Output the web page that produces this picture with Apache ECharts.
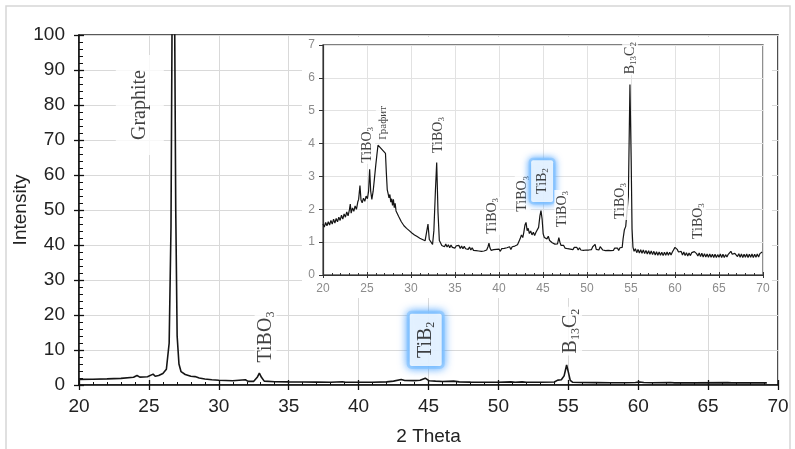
<!DOCTYPE html>
<html>
<head>
<meta charset="utf-8">
<script src="https://cdn.jsdelivr.net/npm/echarts@6/dist/echarts.min.js"></script>
<style>
  html, body { margin: 0; padding: 0; background: #fff; }
  #chart { width: 795px; height: 449px; }
</style>
</head>
<body>
<div id="chart"></div>
<script>
// XRD pattern, full scale (2θ, intensity)
const mainPattern = [
  [20, 1.6], [21, 1.65], [22, 1.75], [23, 1.9], [23.9, 2.2], [24.15, 2.7], [24.35, 2.25], [24.9, 2.35],
  [25.3, 3.1], [25.45, 2.5], [25.7, 2.7], [26.0, 3.3], [26.25, 4.5], [26.45, 12], [26.58, 45], [26.66, 106],
  [26.84, 106], [26.92, 50], [27.02, 14], [27.15, 6], [27.3, 3.8], [27.6, 3.0], [28.0, 2.5], [28.3, 2.4],
  [28.6, 2.0], [29, 1.7], [29.5, 1.5], [30, 1.35], [31, 1.2], [31.9, 1.5], [32.1, 1.05], [32.5, 1.05],
  [32.75, 2.2], [32.9, 3.4], [33.05, 2.2], [33.25, 1.1], [34, 0.95], [35, 0.88], [36, 0.85], [37, 0.82],
  [38, 0.78], [38.85, 0.95], [39.05, 0.8], [40, 0.78], [41, 0.8], [42, 0.9], [42.5, 1.1], [43.05, 1.55],
  [43.3, 1.3], [44, 1.25], [44.4, 1.35], [44.77, 1.95], [45.05, 1.2], [45.5, 1.1], [46, 1.0], [46.8, 1.1],
  [47.2, 0.9], [48, 0.82], [49, 0.8], [50, 0.8], [50.9, 0.9], [51.2, 0.8], [51.7, 0.88], [52, 0.78],
  [53, 0.78], [54, 0.85], [54.25, 1.4], [54.5, 1.5], [54.7, 2.6], [54.88, 5.7], [55.02, 3.4], [55.14, 1.3],
  [55.3, 0.8], [56, 0.72], [57, 0.68], [58, 0.65], [59, 0.65], [59.8, 0.72], [60.1, 0.88], [60.4, 0.7],
  [61, 0.66], [62.3, 0.72], [62.6, 0.62], [64, 0.6], [66.4, 0.68], [66.7, 0.6], [68, 0.6], [69.2, 0.62]
];

// Same pattern, low-intensity detail (2θ, intensity)
const insetPattern = [
  [20.0, 1.55], [20.15, 1.46], [20.3, 1.60], [20.45, 1.50], [20.6, 1.62], [20.75, 1.52], [20.9, 1.66], [21.05, 1.55],
  [21.2, 1.70], [21.35, 1.58], [21.5, 1.72], [21.65, 1.62], [21.8, 1.76], [21.95, 1.66], [22.1, 1.82], [22.25, 1.70],
  [22.4, 1.86], [22.55, 1.76], [22.7, 1.92], [22.85, 1.80], [23.0, 1.98], [23.1, 2.16], [23.2, 1.88], [23.35, 2.04],
  [23.5, 1.94], [23.65, 2.10], [23.8, 2.00], [23.95, 2.22], [24.05, 2.30], [24.2, 2.72], [24.32, 2.28], [24.45, 2.20],
  [24.6, 2.34], [24.75, 2.24], [24.9, 2.40], [25.05, 2.32], [25.18, 2.55], [25.3, 3.22], [25.42, 2.55], [25.55, 2.30],
  [25.7, 2.55], [25.85, 2.95], [26.0, 3.35], [26.12, 3.65], [26.25, 3.95], [27.1, 3.70], [27.2, 3.10], [27.3, 2.60],
  [27.4, 2.48], [27.5, 2.35], [27.6, 2.45], [27.7, 2.22], [27.8, 2.32], [27.9, 2.12], [28.0, 2.30], [28.1, 2.05],
  [28.2, 2.18], [28.3, 1.95], [28.45, 1.90], [28.6, 1.78], [28.75, 1.74], [28.9, 1.62], [29.05, 1.60], [29.2, 1.50],
  [29.35, 1.52], [29.5, 1.42], [29.65, 1.44], [29.8, 1.35], [29.95, 1.38], [30.1, 1.28], [30.25, 1.32], [30.4, 1.22],
  [30.55, 1.26], [30.7, 1.17], [30.85, 1.21], [31.0, 1.12], [31.15, 1.16], [31.3, 1.08], [31.45, 1.12], [31.6, 1.04],
  [31.75, 1.08], [31.93, 1.55], [32.08, 1.08], [32.25, 1.02], [32.45, 0.93], [32.6, 1.35], [32.78, 2.60], [32.92, 3.42],
  [33.07, 1.90], [33.22, 1.05], [33.35, 0.98], [33.5, 0.90], [33.65, 0.96], [33.8, 0.86], [33.95, 0.94], [34.1, 0.85],
  [34.25, 0.92], [34.4, 0.83], [34.55, 0.91], [34.7, 0.84], [34.85, 0.90], [35.0, 0.82], [35.15, 0.89], [35.3, 0.83],
  [35.45, 0.90], [35.6, 0.81], [35.75, 0.88], [35.9, 0.80], [36.05, 0.87], [36.2, 0.80], [36.35, 0.86], [36.5, 0.78],
  [36.65, 0.85], [36.8, 0.76], [36.95, 0.83], [37.1, 0.75], [37.25, 0.81], [37.4, 0.74], [37.55, 0.80], [37.7, 0.73],
  [37.85, 0.79], [38.0, 0.72], [38.15, 0.78], [38.3, 0.73], [38.45, 0.79], [38.6, 0.76], [38.75, 0.86], [38.86, 0.97],
  [38.98, 0.82], [39.1, 0.75], [39.25, 0.70], [39.4, 0.77], [39.55, 0.71], [39.7, 0.78], [39.85, 0.72], [40.0, 0.79],
  [40.15, 0.72], [40.3, 0.80], [40.45, 0.74], [40.6, 0.81], [40.75, 0.75], [40.9, 0.83], [41.05, 0.77], [41.2, 0.86],
  [41.35, 0.78], [41.5, 0.86], [41.65, 0.80], [41.8, 0.88], [41.95, 0.84], [42.1, 0.92], [42.25, 0.90], [42.4, 1.10],
  [42.55, 1.22], [42.7, 1.14], [42.82, 1.30], [42.95, 1.52], [43.07, 1.60], [43.2, 1.35], [43.32, 1.42], [43.45, 1.26],
  [43.6, 1.34], [43.75, 1.22], [43.9, 1.30], [44.05, 1.20], [44.2, 1.30], [44.35, 1.26], [44.5, 1.45], [44.65, 1.80],
  [44.77, 1.96], [44.9, 1.70], [45.02, 1.25], [45.15, 1.14], [45.3, 1.20], [45.45, 1.10], [45.6, 1.18], [45.75, 1.05],
  [45.9, 1.08], [46.05, 0.98], [46.2, 1.02], [46.35, 0.94], [46.5, 1.00], [46.65, 0.95], [46.8, 1.14], [46.92, 1.00],
  [47.05, 0.90], [47.2, 0.84], [47.35, 0.90], [47.5, 0.82], [47.65, 0.88], [47.8, 0.80], [47.95, 0.86], [48.1, 0.79],
  [48.25, 0.85], [48.4, 0.77], [48.55, 0.84], [48.7, 0.78], [48.85, 0.84], [49.0, 0.76], [49.15, 0.83], [49.3, 0.76],
  [49.45, 0.82], [49.6, 0.75], [49.75, 0.81], [49.9, 0.76], [50.05, 0.82], [50.2, 0.76], [50.35, 0.81], [50.5, 0.77],
  [50.65, 0.86], [50.8, 0.80], [50.92, 0.93], [51.05, 0.78], [51.2, 0.82], [51.35, 0.76], [51.5, 0.86], [51.65, 0.91],
  [51.8, 0.76], [51.95, 0.80], [52.1, 0.74], [52.25, 0.80], [52.4, 0.75], [52.55, 0.81], [52.7, 0.74], [52.85, 0.80],
  [53.0, 0.75], [53.15, 0.82], [53.3, 0.76], [53.45, 0.82], [53.6, 0.75], [53.75, 0.83], [53.9, 0.78], [54.0, 0.84],
  [54.1, 1.10], [54.25, 1.38], [54.4, 1.48], [54.55, 1.45], [54.7, 2.40], [54.88, 5.80], [55.02, 3.50], [55.12, 1.40],
  [55.22, 0.85], [55.35, 0.72], [55.5, 0.80], [55.65, 0.68], [55.8, 0.78], [55.95, 0.67], [56.1, 0.77], [56.25, 0.66],
  [56.4, 0.76], [56.55, 0.65], [56.7, 0.75], [56.85, 0.64], [57.0, 0.74], [57.15, 0.63], [57.3, 0.73], [57.45, 0.62],
  [57.6, 0.72], [57.75, 0.61], [57.9, 0.71], [58.05, 0.60], [58.2, 0.70], [58.35, 0.60], [58.5, 0.69], [58.65, 0.59],
  [58.8, 0.69], [58.95, 0.60], [59.1, 0.70], [59.25, 0.60], [59.4, 0.69], [59.55, 0.61], [59.7, 0.70], [59.85, 0.72],
  [60.0, 0.84], [60.12, 0.90], [60.25, 0.78], [60.4, 0.70], [60.55, 0.64], [60.7, 0.72], [60.85, 0.61], [61.0, 0.70],
  [61.15, 0.59], [61.3, 0.68], [61.45, 0.58], [61.6, 0.67], [61.75, 0.59], [61.9, 0.68], [62.05, 0.63], [62.2, 0.71],
  [62.32, 0.75], [62.45, 0.65], [62.6, 0.58], [62.75, 0.67], [62.9, 0.56], [63.05, 0.66], [63.2, 0.55], [63.35, 0.65],
  [63.5, 0.55], [63.65, 0.64], [63.8, 0.54], [63.95, 0.64], [64.1, 0.54], [64.25, 0.63], [64.4, 0.53], [64.55, 0.63],
  [64.7, 0.53], [64.85, 0.62], [65.0, 0.54], [65.15, 0.64], [65.3, 0.53], [65.45, 0.63], [65.6, 0.53], [65.75, 0.62],
  [65.9, 0.55], [66.05, 0.63], [66.2, 0.64], [66.35, 0.72], [66.5, 0.63], [66.65, 0.57], [66.8, 0.66], [66.95, 0.68],
  [67.1, 0.56], [67.25, 0.65], [67.4, 0.54], [67.55, 0.64], [67.7, 0.53], [67.85, 0.63], [68.0, 0.54], [68.15, 0.64],
  [68.3, 0.53], [68.45, 0.63], [68.6, 0.54], [68.75, 0.64], [68.9, 0.53], [69.05, 0.63], [69.2, 0.54], [69.35, 0.64],
  [69.5, 0.55], [69.65, 0.65], [69.8, 0.62], [69.9, 0.70]
];

// Phase annotations: [2θ, intensity at label centre, rich-text formatter, highlighted]
const mainPhaseLabels = [
  [24.35, 80, '{g|Graphite}', false],
  [33.35, 13.7, '{t|TiBO}{s|3}', false],
  [44.8, 12.9, '{t|TiB}{s|2}', true],
  [55.2, 15.4, '{t|B}{s|13}{t|C}{s|2}', false]
];
const insetPhaseLabels = [
  [25.0, 3.96, '{t|TiBO}{s|3}', false],
  [26.8, 4.63, '{r|Графит}', false],
  [33.05, 4.26, '{t|TiBO}{s|3}', false],
  [39.2, 1.80, '{t|TiBO}{s|3}', false],
  [42.7, 2.47, '{t|TiBO}{s|3}', false],
  [44.9, 2.86, '{t|TiB}{s|2}', true],
  [47.2, 2.01, '{t|TiBO}{s|3}', false],
  [53.75, 2.25, '{t|TiBO}{s|3}', false],
  [54.9, 6.60, '{t|B}{s|13}{t|C}{s|2}', false],
  [62.6, 1.64, '{t|TiBO}{s|3}', false]
];

const xTicks = { min: 20, max: 70, interval: 5 };
const yMainTicks = { min: 0, max: 100, interval: 10 };
const yInsetTicks = { min: 0, max: 7, interval: 1 };

const SERIF = '"Liberation Serif", "DejaVu Serif", serif';
const SANS = '"Liberation Sans", Arial, sans-serif';

function richSet(size) {
  return {
    g: { fontFamily: SERIF, fontSize: size, color: '#111', lineHeight: size + 2 },
    t: { fontFamily: SERIF, fontSize: size, color: '#111', lineHeight: size + 2 },
    s: { fontFamily: SERIF, fontSize: Math.round(size * 0.62), color: '#111', lineHeight: Math.round(size * 0.62), verticalAlign: 'bottom' },
    r: { fontFamily: SERIF, fontSize: Math.round(size * 0.8), color: '#111', lineHeight: size }
  };
}

function labelItems(list, size, big) {
  return list.map(function (d) {
    const glow = d[3];
    const isGraphite = d[2].indexOf('{g|') === 0;
    let padding = big ? [0, 2, 0, 2] : [0, 1, 0, 1];
    if (isGraphite) padding = [13, 15, 13, 15];
    if (glow) padding = big ? [5, 8, 5, 8] : [3, 8, 3, 8];
    const lbl = {
      show: true,
      position: 'inside',
      rotate: 90,
      formatter: d[2],
      rich: richSet(size),
      backgroundColor: '#fff',
      padding: padding
    };
    if (glow) {
      lbl.borderColor = '#9ccfff';
      lbl.borderWidth = big ? 3 : 2.5;
      lbl.borderRadius = 2;
      lbl.shadowColor = 'rgba(50,150,255,0.85)';
      lbl.shadowBlur = big ? 9 : 7;
    }
    return { value: [d[0], d[1]], label: lbl };
  });
}

const chart = echarts.init(document.getElementById('chart'), null, { renderer: 'canvas' });

const gridLine = { show: true, lineStyle: { color: '#d9d9d9', width: 1 } };

chart.setOption({
  animation: false,
  backgroundColor: '#fff',
  graphic: [
    { type: 'rect', z: 0, shape: { x: 6, y: 6, width: 784, height: 452 }, style: { fill: 'none', stroke: '#d6d6d6', lineWidth: 1.5 } },
    { type: 'rect', z: 1, shape: { x: 302, y: 37, width: 470, height: 261 }, style: { fill: '#fff' } }
  ],
  grid: [
    { left: 79, right: 17, top: 35, bottom: 64, outerBoundsMode: 'none', containLabel: false,
      show: true, borderColor: '#222', borderWidth: 1.6, z: 0 },
    { left: 323, width: 440, top: 45, height: 230, outerBoundsMode: 'none', containLabel: false,
      show: true, borderColor: '#555', borderWidth: 1.3, z: 2 }
  ],
  xAxis: [
    {
      gridIndex: 0, type: 'value', position: 'bottom', z: 0,
      min: xTicks.min, max: xTicks.max, interval: xTicks.interval,
      name: '2 Theta', nameLocation: 'middle', nameGap: 42, nameMoveOverlap: false,
      nameTextStyle: { fontFamily: SANS, fontSize: 19, color: '#222' },
      axisLine: { show: true, lineStyle: { color: '#111', width: 1.5 } },
      axisTick: { show: true, inside: false, length: 5, lineStyle: { color: '#111', width: 1.3 } },
      axisLabel: { fontFamily: SANS, fontSize: 19, color: '#222', margin: 12 },
      splitLine: gridLine
    },
    {
      gridIndex: 0, type: 'value', position: 'bottom', z: 0,
      min: xTicks.min, max: xTicks.max, interval: xTicks.interval,
      axisLine: { show: false },
      axisTick: { show: true, inside: true, length: 5, lineStyle: { color: '#111', width: 1.3 } },
      minorTick: { show: true, splitNumber: 5, length: 3, lineStyle: { color: '#111', width: 1 } },
      axisLabel: { show: false },
      splitLine: { show: false }
    },
    {
      gridIndex: 1, type: 'value', position: 'bottom', z: 3,
      min: xTicks.min, max: xTicks.max, interval: xTicks.interval,
      axisLine: { show: true, lineStyle: { color: '#333', width: 1.2 } },
      axisTick: { show: true, inside: false, length: 3, lineStyle: { color: '#333' } },
      axisLabel: { fontFamily: SANS, fontSize: 12, color: '#8c8c8c', margin: 8 },
      splitLine: { show: true, lineStyle: { color: '#e2e2e2', width: 1 } }
    },
    {
      gridIndex: 1, type: 'value', position: 'bottom', z: 3,
      min: xTicks.min, max: xTicks.max, interval: xTicks.interval,
      axisLine: { show: false },
      axisTick: { show: true, inside: true, length: 3, lineStyle: { color: '#333' } },
      minorTick: { show: true, splitNumber: 5, length: 2, lineStyle: { color: '#333' } },
      axisLabel: { show: false },
      splitLine: { show: false }
    }
  ],
  yAxis: [
    {
      gridIndex: 0, type: 'value', position: 'left', z: 0,
      min: yMainTicks.min, max: yMainTicks.max, interval: yMainTicks.interval,
      name: 'Intensity', nameLocation: 'middle', nameGap: 49, nameRotate: 90, nameMoveOverlap: false,
      nameTextStyle: { fontFamily: SANS, fontSize: 19, color: '#222' },
      axisLine: { show: true, lineStyle: { color: '#111', width: 1.5 } },
      axisTick: { show: true, inside: false, length: 5, lineStyle: { color: '#111', width: 1.3 } },
      axisLabel: { fontFamily: SANS, fontSize: 19, color: '#222', margin: 14 },
      splitLine: gridLine
    },
    {
      gridIndex: 0, type: 'value', position: 'left', z: 0,
      min: yMainTicks.min, max: yMainTicks.max, interval: yMainTicks.interval,
      axisLine: { show: false },
      axisTick: { show: true, inside: true, length: 5, lineStyle: { color: '#111', width: 1.3 } },
      minorTick: { show: true, splitNumber: 5, length: 4, lineStyle: { color: '#111', width: 1 } },
      axisLabel: { show: false },
      splitLine: { show: false }
    },
    {
      gridIndex: 1, type: 'value', position: 'left', z: 3,
      min: yInsetTicks.min, max: yInsetTicks.max, interval: yInsetTicks.interval,
      axisLine: { show: true, lineStyle: { color: '#333', width: 1.2 } },
      axisTick: { show: true, inside: false, length: 4, lineStyle: { color: '#333' } },
      axisLabel: { fontFamily: SANS, fontSize: 12, color: '#8c8c8c', margin: 8 },
      splitLine: { show: true, lineStyle: { color: '#e2e2e2', width: 1 } }
    }
  ],
  series: [
    {
      type: 'line', xAxisIndex: 0, yAxisIndex: 0, z: 2,
      data: mainPattern, showSymbol: false, symbol: 'none', clip: true,
      lineStyle: { color: '#151515', width: 1.6 }
    },
    {
      type: 'line', xAxisIndex: 2, yAxisIndex: 2, z: 4,
      data: insetPattern, showSymbol: false, symbol: 'none', clip: true,
      lineStyle: { color: '#151515', width: 1.2 }
    },
    {
      type: 'scatter', xAxisIndex: 0, yAxisIndex: 0, z: 6,
      symbol: 'circle', symbolSize: 0.1, itemStyle: { color: 'rgba(0,0,0,0)' },
      silent: true,
      data: labelItems(mainPhaseLabels, 20, true)
    },
    {
      type: 'scatter', xAxisIndex: 2, yAxisIndex: 2, z: 6,
      symbol: 'circle', symbolSize: 0.1, itemStyle: { color: 'rgba(0,0,0,0)' },
      silent: true,
      data: labelItems(insetPhaseLabels, 14, false)
    }
  ]
});
</script>
</body>
</html>
